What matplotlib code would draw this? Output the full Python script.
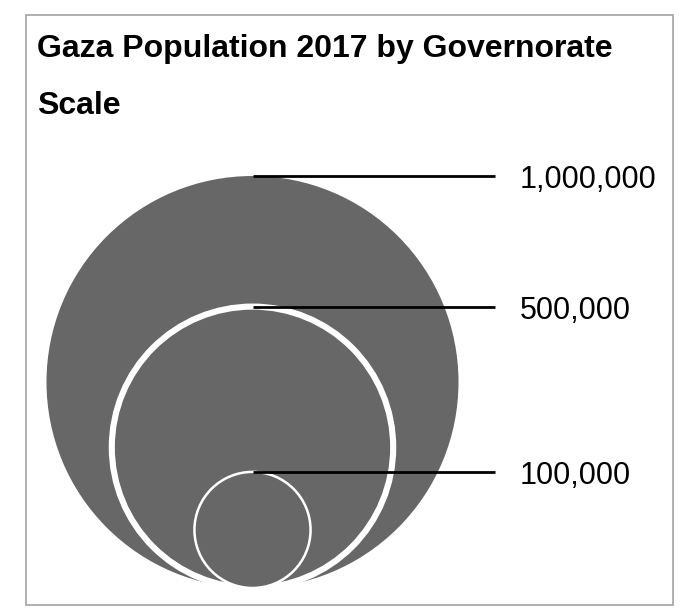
import matplotlib
matplotlib.use("Agg")
import matplotlib.pyplot as plt
from matplotlib.patches import Circle, Rectangle

# scale legend values (population) and their labels
values = [1000000, 500000, 100000]
labels = ["1,000,000", "500,000", "100,000"]
title = "Gaza Population 2017 by Governorate"
subtitle = "Scale"

plt.rcParams["font.family"] = ["Liberation Sans", "DejaVu Sans"]
FILL = "#676767"

W, H = 688, 614
fig = plt.figure(figsize=(W/100, H/100), dpi=100)
ax = fig.add_axes([0, 0, 1, 1])
ax.set_xlim(0, W); ax.set_ylim(H, 0); ax.axis("off")

# frame
ax.add_patch(Rectangle((26, 15), 646.5, 590, fill=False, edgecolor="#a3a3a3", lw=1.2))

ax.text(37, 57, title, fontsize=23, fontweight="bold", ha="left", va="baseline")
ax.text(37, 114, subtitle, fontsize=23, fontweight="bold", ha="left", va="baseline")

# proportional symbols: apparent-magnitude style radius scale, bottom aligned
RMAX, EXP = 206, 0.55
cx, bottom = 252.5, 588
edge_w = {0: 0, 1: 4.4, 2: 1.8}
vmax = max(values)
for i, (v, lab) in enumerate(zip(values, labels)):
    r = RMAX * (v / vmax) ** EXP
    cy = bottom - r
    ax.add_patch(Circle((cx, cy), r, facecolor=FILL,
                        edgecolor="white" if edge_w[i] else "none",
                        lw=edge_w[i], zorder=2 + i))
for i, (v, lab) in enumerate(zip(values, labels)):
    r = RMAX * (v / vmax) ** EXP
    top = bottom - 2 * r
    ax.plot([cx, 495], [top, top], color="black", lw=2.0, solid_capstyle="butt", zorder=10)
    ax.text(520, top + 12, lab, fontsize=22, ha="left", va="baseline", zorder=10)

fig.savefig("out.png", dpi=100)
